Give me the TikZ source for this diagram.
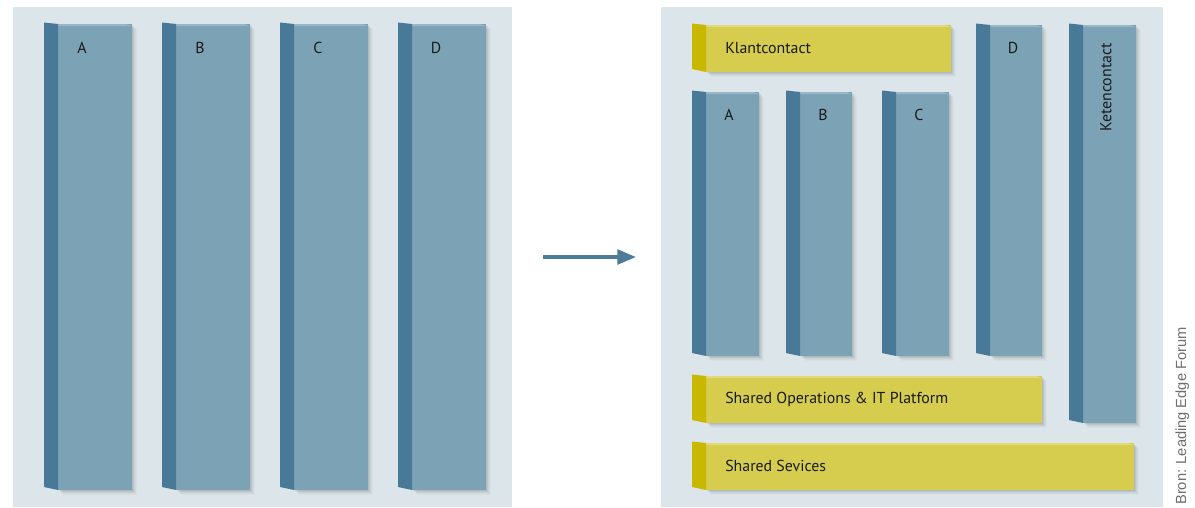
\documentclass[tikz,border=0pt]{standalone}
\usepackage{fontspec}
\setmainfont{PT Sans}
\newfontfamily\bronfont{Liberation Sans}
\usetikzlibrary{arrows.meta}
\definecolor{bg}{HTML}{DCE6EA}
\definecolor{bfront}{HTML}{7CA2B6}
\definecolor{bside}{HTML}{487A98}
\definecolor{btop}{HTML}{98B7C6}
\definecolor{yfront}{HTML}{D6CC4E}
\definecolor{yside}{HTML}{C8B900}
\definecolor{ytop}{HTML}{E2DA78}
\definecolor{arrowc}{HTML}{4C7C98}
\definecolor{txt}{HTML}{1A1A1A}
\definecolor{bron}{HTML}{6E6E6E}
\tikzset{
  panel/.style={fill=bg},
  lbl/.style={font=\fontsize{11.9}{13}\selectfont, text=txt, inner sep=0pt},
  bronlbl/.style={font=\bronfont\fontsize{11}{12}\selectfont, text=bron, inner sep=0pt, rotate=90},
  flow/.style={draw=arrowc, line width=2.6pt, -{Triangle[length=14pt,width=11pt]}},
}
% #1 name, #2 side left x, #3 front left x, #4 right x, #5 top y, #6 bottom y, #7 colour prefix (b/y)
\newcommand\pillar[7]{%
  \foreach \s/\o in {1/0.06,2/0.05,3/0.04,4/0.03,5/0.02}{%
    \fill[black,opacity=\o] (#3+\s,#5+\s) rectangle (#4+\s,#6+\s);}
  \node[name=#1, fill=#7front, inner sep=0pt, anchor=north west,
        minimum width={(#4-#3)*0.75pt}, minimum height={(#6-#5)*0.75pt}] at (#3,#5) {};
  \fill[#7top] (#3,#5) -- (#4-6,#5) -- (#4,#5+2) -- (#3,#5+2) -- cycle;
  \fill[#7side] (#2,#5-1.5) -- (#3,#5) -- (#3,#6) -- (#2,#6-3) -- cycle;
}
\begin{document}
\begin{tikzpicture}[x=0.75pt,y=-0.75pt]
\useasboundingbox (0,0) rectangle (1195,507);
\fill[white] (0,0) rectangle (1195,507);
\fill[panel] (13,7) rectangle (512,507);
\fill[panel] (661,7) rectangle (1163,507);
% left panel
\pillar{la}{44}{58}{132}{24}{490}{b}
\pillar{lb}{162}{176}{250}{24}{490}{b}
\pillar{lc}{280}{294}{368}{24}{490}{b}
\pillar{ld}{398}{412}{486}{24}{490}{b}
\node[lbl] (tla) at (82,48) {A};
\node[lbl] (tlb) at (200,48) {B};
\node[lbl] (tlc) at (318,48) {C};
\node[lbl] (tld) at (436,48) {D};
% arrow
\coordinate (arS) at (543,257);
\coordinate (arE) at (636,257);
\draw[flow] (arS) -- (arE);
% right panel
\pillar{klant}{692}{706}{951}{25}{72}{y}
\pillar{ra}{692}{706}{759}{92}{356}{b}
\pillar{rb}{786}{800}{852}{92}{356}{b}
\pillar{rc}{882}{896}{949}{92}{356}{b}
\pillar{rd}{976}{990}{1042}{25}{356}{b}
\pillar{keten}{1069}{1083}{1136}{25}{423}{b}
\pillar{shops}{692}{706}{1042}{376}{423}{y}
\pillar{shsev}{692}{706}{1134}{443}{490}{y}
\node[lbl, anchor=west] (tklant) at (725,48) {Klantcontact};
\node[lbl] (tra) at (729,115) {A};
\node[lbl] (trb) at (823,115) {B};
\node[lbl] (trc) at (919,115) {C};
\node[lbl] (trd) at (1013,48) {D};
\node[lbl, rotate=90, anchor=west] (tketen) at (1106,132) {Ketencontact};
\node[lbl, anchor=west] (tshops) at (725,399) {Shared Operations \& IT Platform};
\node[lbl, anchor=west] (tshsev) at (725,466) {Shared Sevices};
\node[bronlbl, anchor=base west] (tbron) at (1186,505) {Bron: Leading Edge Forum};
\end{tikzpicture}
\end{document}
